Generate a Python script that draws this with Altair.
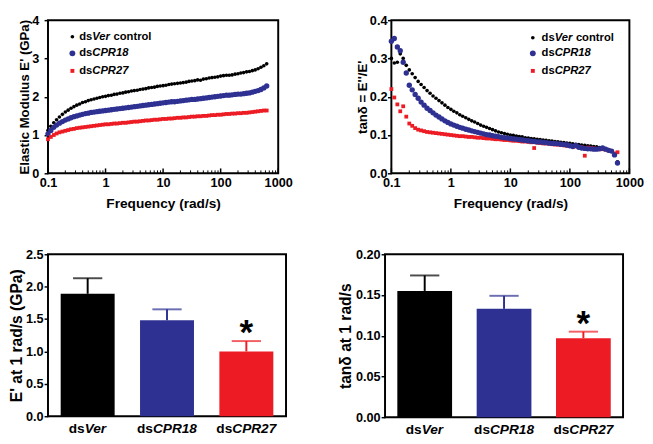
import altair as alt
import pandas as pd

FONT = "Liberation Sans"

# ---------------- data ----------------
freq = [0.1, 0.112, 0.126, 0.141, 0.158, 0.178, 0.2, 0.224, 0.251, 0.282,
        0.316, 0.355, 0.398, 0.447, 0.501, 0.562, 0.631, 0.708, 0.794, 0.891,
        1, 1.12, 1.26, 1.41, 1.58, 1.78, 2, 2.24, 2.51, 2.82,
        3.16, 3.55, 3.98, 4.47, 5.01, 5.62, 6.31, 7.08, 7.94, 8.91,
        10, 11.2, 12.6, 14.1, 15.8, 17.8, 20, 22.4, 25.1, 28.2,
        31.6, 35.5, 39.8, 44.7, 50.1, 56.2, 63.1, 70.8, 79.4, 89.1,
        100, 112, 126, 141, 158, 178, 200, 224, 251, 282,
        316, 355, 398, 447, 501, 562, 631]

eprime_ver = [1.12, 1.23, 1.32, 1.40, 1.47, 1.54, 1.60, 1.65, 1.70, 1.74,
              1.78, 1.81, 1.85, 1.87, 1.90, 1.92, 1.94, 1.96, 1.98, 2.00,
              2.01, 2.03, 2.04, 2.06, 2.07, 2.09, 2.10, 2.12, 2.13, 2.15,
              2.16, 2.17, 2.19, 2.20, 2.21, 2.23, 2.24, 2.25, 2.27, 2.28,
              2.29, 2.30, 2.32, 2.33, 2.34, 2.35, 2.36, 2.37, 2.38, 2.40,
              2.41, 2.42, 2.44, 2.43, 2.46, 2.47, 2.49, 2.50, 2.51, 2.52,
              2.54, 2.55, 2.56, 2.56, 2.57, 2.59, 2.60, 2.62, 2.63, 2.65,
              2.66, 2.68, 2.70, 2.73, 2.77, 2.81, 2.86]
eprime_cpr18 = [1.03, 1.12, 1.20, 1.26, 1.31, 1.35, 1.39, 1.42, 1.45, 1.48,
                1.50, 1.52, 1.54, 1.56, 1.57, 1.59, 1.60, 1.61, 1.62, 1.63,
                1.64, 1.65, 1.66, 1.67, 1.68, 1.69, 1.70, 1.71, 1.72, 1.73,
                1.74, 1.75, 1.76, 1.77, 1.78, 1.79, 1.80, 1.81, 1.82, 1.83,
                1.84, 1.85, 1.86, 1.87, 1.87, 1.88, 1.89, 1.90, 1.91, 1.92,
                1.93, 1.93, 1.94, 1.95, 1.96, 1.97, 1.98, 1.99, 2.00, 2.01,
                2.02, 2.03, 2.04, 2.04, 2.05, 2.06, 2.07, 2.07, 2.08, 2.09,
                2.10, 2.12, 2.14, 2.16, 2.19, 2.23, 2.28]
eprime_cpr27 = [0.89, 0.95, 1.00, 1.04, 1.07, 1.09, 1.11, 1.13, 1.15, 1.16,
                1.18, 1.19, 1.20, 1.21, 1.22, 1.23, 1.24, 1.25, 1.26, 1.27,
                1.28, 1.28, 1.29, 1.30, 1.30, 1.31, 1.32, 1.32, 1.33, 1.34,
                1.35, 1.35, 1.36, 1.37, 1.38, 1.38, 1.39, 1.40, 1.40, 1.41,
                1.42, 1.42, 1.43, 1.43, 1.44, 1.45, 1.45, 1.46, 1.46, 1.47,
                1.48, 1.48, 1.49, 1.49, 1.50, 1.50, 1.51, 1.52, 1.52, 1.53,
                1.53, 1.54, 1.55, 1.55, 1.56, 1.56, 1.57, 1.57, 1.58, 1.58,
                1.59, 1.60, 1.61, 1.62, 1.63, 1.64, 1.64]

tan_ver = [0.300, 0.288, 0.290, 0.312, 0.300, 0.282, 0.270, 0.260, 0.250, 0.240,
           0.232, 0.224, 0.216, 0.209, 0.202, 0.196, 0.190, 0.184, 0.178, 0.172,
           0.167, 0.162, 0.158, 0.153, 0.149, 0.145, 0.141, 0.137, 0.134, 0.130,
           0.126, 0.123, 0.120, 0.117, 0.114, 0.111, 0.108, 0.106, 0.104, 0.102,
           0.100, 0.099, 0.097, 0.096, 0.095, 0.093, 0.092, 0.091, 0.090, 0.089,
           0.088, 0.087, 0.086, 0.085, 0.084, 0.083, 0.082, 0.081, 0.080, 0.079,
           0.078, 0.077, 0.076, 0.075, 0.074, 0.073, 0.072, 0.071, 0.070, 0.069,
           0.067, 0.066, 0.064, 0.062, 0.058, 0.050, 0.030]
tan_cpr18 = [0.345, 0.352, 0.330, 0.320, 0.290, 0.262, 0.230, 0.218, 0.206, 0.196,
             0.186, 0.178, 0.170, 0.164, 0.158, 0.152, 0.147, 0.142, 0.137, 0.133,
             0.129, 0.126, 0.123, 0.120, 0.118, 0.115, 0.113, 0.111, 0.109, 0.107,
             0.105, 0.103, 0.101, 0.100, 0.098, 0.097, 0.096, 0.094, 0.093, 0.092,
             0.091, 0.090, 0.089, 0.088, 0.087, 0.086, 0.085, 0.084, 0.083, 0.082,
             0.082, 0.081, 0.080, 0.079, 0.078, 0.078, 0.077, 0.076, 0.075, 0.074,
             0.072, 0.070, 0.073, 0.068, 0.066, 0.065, 0.064, 0.064, 0.063, 0.063,
             0.064, 0.066, 0.063, 0.060, 0.058, 0.048, 0.027]
tan_cpr27 = [0.220, 0.198, 0.180, 0.162, 0.175, 0.148, 0.130, 0.124, 0.118, 0.114,
             0.112, 0.110, 0.108, 0.107, 0.106, 0.105, 0.104, 0.103, 0.102, 0.101,
             0.100, 0.099, 0.098, 0.097, 0.097, 0.096, 0.095, 0.095, 0.094, 0.093,
             0.093, 0.092, 0.091, 0.091, 0.090, 0.089, 0.089, 0.088, 0.087, 0.087,
             0.086, 0.085, 0.085, 0.084, 0.083, 0.083, 0.082, 0.081, 0.066, 0.080,
             0.079, 0.078, 0.078, 0.077, 0.076, 0.075, 0.075, 0.074, 0.073, 0.072,
             0.072, 0.071, 0.070, 0.069, 0.068, 0.046, 0.067, 0.066, 0.065, 0.064,
             0.063, 0.063, 0.062, 0.060, 0.058, 0.052, 0.055]

groups = ["dsVer", "dsCPR18", "dsCPR27"]
group_italic = ["Ver", "CPR18", "CPR27"]
significant = [False, False, True]
e1_mean = [1.89, 1.48, 1.00]
e1_err = [0.24, 0.17, 0.16]
tan1_mean = [0.155, 0.133, 0.097]
tan1_err = [0.019, 0.016, 0.008]

major_ticks = [0.1, 1, 10, 100, 1000]
minor_ticks = [0.2, 0.3, 0.4, 0.5, 0.6, 0.7, 0.8, 0.9,
               2, 3, 4, 5, 6, 7, 8, 9,
               20, 30, 40, 50, 60, 70, 80, 90,
               200, 300, 400, 500, 600, 700, 800, 900]

# ---------------- styles ----------------
C_BLACK = "#000000"
C_BLUE = "#2E3192"
C_RED = "#ED1C24"
series_style = [  # (italic part, suffix, color, shape, size)
    ("Ver", " control", C_BLACK, "circle", 14),
    ("CPR18", "", C_BLUE, "circle", 30),
    ("CPR27", "", C_RED, "square", 15),
]
legend_sizes = [14, 36, 16]

W_BOLD = {"d": 611, "s": 556, "V": 667, "e": 556, "r": 389, "c": 556, "o": 611,
          "n": 611, "t": 333, "l": 278, "C": 722, "P": 667, "R": 722, " ": 278}


def tw(s, size):
    return sum(W_BOLD.get(ch, 556) for ch in s) / 1000.0 * size


ONE = pd.DataFrame({"k": [0]})


def curve_panel(series_vals, ydom, yvals, yfmt, ytitle, w, h, sym_x, txt_x, rows_y,
                draw_order, y_ext, y_tpad, y_lpad, left_spacer=None):
    xs = alt.Scale(type="log", domain=[0.1, 1000], nice=False)
    ys = alt.Scale(domain=ydom, nice=False, zero=False)
    xaxis = alt.Axis(values=major_ticks, format="~g", ticks=False, tickSize=0,
                     labelFlush=False, labelOverlap=False, labelFontSize=13,
                     labelPadding=4, minExtent=17, maxExtent=17,
                     title="Frequency (rad/s)", titleFontSize=14, titlePadding=7)
    yaxis = alt.Axis(values=yvals, format=yfmt, tickSize=4, labelFontSize=13,
                     labelPadding=y_lpad, minExtent=y_ext, maxExtent=y_ext,
                     title=ytitle, titleFontSize=13.5, titlePadding=y_tpad)
    layers = []
    for idx in draw_order:
        name, suf, col, shp, sz = series_style[idx]
        df = pd.DataFrame({"f": freq, "v": series_vals[idx]})
        layers.append(alt.Chart(df).mark_point(filled=True, shape=shp, size=sz, color=col,
                                               opacity=1, strokeWidth=0).encode(
            x=alt.X("f:Q", scale=xs, axis=xaxis),
            y=alt.Y("v:Q", scale=ys, axis=yaxis)))
    layers.append(alt.Chart(pd.DataFrame({"f": major_ticks})).mark_rule(
        color="black", strokeWidth=1.5).encode(
        x=alt.X("f:Q", scale=xs, axis=xaxis), y=alt.value(h), y2=alt.value(h - 5)))
    layers.append(alt.Chart(pd.DataFrame({"f": minor_ticks})).mark_rule(
        color="black", strokeWidth=1).encode(
        x=alt.X("f:Q", scale=xs, axis=xaxis), y=alt.value(h), y2=alt.value(h - 3)))
    fs = 11.5
    for i, (name, suf, col, shp, sz) in enumerate(series_style):
        ry = rows_y[i]
        layers.append(alt.Chart(ONE).mark_point(filled=True, shape=shp, size=legend_sizes[i],
                                                color=col, opacity=1, strokeWidth=0).encode(
            x=alt.value(sym_x), y=alt.value(ry)))
        layers.append(alt.Chart(ONE).mark_text(text="ds", font=FONT, fontWeight="bold",
                                               fontSize=fs, align="left", baseline="middle",
                                               color="black").encode(
            x=alt.value(txt_x), y=alt.value(ry)))
        layers.append(alt.Chart(ONE).mark_text(text=name, font=FONT, fontWeight="bold",
                                               fontStyle="italic", fontSize=fs, align="left",
                                               baseline="middle", color="black").encode(
            x=alt.value(txt_x + tw("ds", fs)), y=alt.value(ry)))
        if suf:
            layers.append(alt.Chart(ONE).mark_text(text=suf.strip(), font=FONT,
                                                   fontWeight="bold", fontSize=fs,
                                                   align="left", baseline="middle",
                                                   color="black").encode(
                x=alt.value(txt_x + tw("ds" + name + " ", fs)), y=alt.value(ry)))
    if left_spacer is not None:
        layers.append(alt.Chart(ONE).mark_text(text=".", fontSize=2, opacity=0,
                                               align="left", baseline="middle").encode(
            x=alt.value(left_spacer), y=alt.value(h / 2)))
    return alt.layer(*layers).properties(width=w, height=h)


def bar_panel(means, errs, ydom, yvals, yfmt, ytitle, w, h, pin, y_ext, y_tpad):
    df = pd.DataFrame({"cat": groups, "mean": means,
                       "top": [m + e for m, e in zip(means, errs)],
                       "sig": significant})
    xs = alt.Scale(domain=groups, paddingInner=pin, paddingOuter=pin / 2)
    cs = alt.Scale(domain=groups, range=[C_BLACK, C_BLUE, C_RED])
    ys = alt.Scale(domain=ydom, nice=False)
    yaxis = alt.Axis(values=yvals, format=yfmt, tickSize=4, labelFontSize=13,
                     labelPadding=1, minExtent=y_ext, maxExtent=y_ext,
                     title=ytitle, titleFontSize=16, titlePadding=y_tpad)
    X = alt.X("cat:N", scale=xs, axis=None, sort=groups)
    color = alt.Color("cat:N", scale=cs, legend=None)
    base = alt.Chart(df)
    layers = [
        base.mark_rule(strokeWidth=2).encode(
            x=X, y=alt.Y("mean:Q", scale=ys, axis=yaxis), y2="top:Q", color=color),
        base.mark_tick(size=30, thickness=2).encode(
            x=X, y=alt.Y("top:Q", scale=ys, axis=yaxis), color=color),
        base.mark_bar().encode(
            x=X, y=alt.Y("mean:Q", scale=ys, axis=yaxis), color=color),
        base.transform_filter(alt.datum.sig).mark_text(
            text="*", font=FONT, fontWeight="bold", fontSize=36, baseline="alphabetic",
            dy=3, color="black").encode(x=X, y=alt.Y("top:Q", scale=ys, axis=yaxis)),
    ]
    fs = 14
    for g, it in zip(groups, group_italic):
        total = tw("ds" + it, fs)
        sub = base.transform_filter(alt.datum.cat == g)
        layers.append(sub.mark_text(text="ds", font=FONT, fontWeight="bold", fontSize=fs,
                                    align="left", baseline="middle", dx=-total / 2,
                                    color="black").encode(x=X, y=alt.value(h + 13)))
        layers.append(sub.mark_text(text=it, font=FONT, fontWeight="bold", fontStyle="italic",
                                    fontSize=fs, align="left", baseline="middle",
                                    dx=-total / 2 + tw("ds", fs),
                                    color="black").encode(x=X, y=alt.value(h + 13)))
    return alt.layer(*layers).properties(width=w, height=h)


p1 = curve_panel([eprime_ver, eprime_cpr18, eprime_cpr27], [0, 4], [0, 1, 2, 3, 4], "d",
                 "Elastic Modulus E' (GPa)", 236, 157, 25, 32, [17, 34, 52], [0, 1, 2],
                 y_ext=17, y_tpad=0, y_lpad=5.5, left_spacer=-35)
p2 = curve_panel([tan_ver, tan_cpr18, tan_cpr27], [0, 0.4], [0, 0.1, 0.2, 0.3, 0.4], ".1f",
                 "tan\u03b4 = E''/E'", 244, 157, 145, 154, [18, 34, 52], [0, 2, 1],
                 y_ext=22.5, y_tpad=0, y_lpad=0.5)
p3 = bar_panel(e1_mean, e1_err, [0, 2.5], [0, 0.5, 1.0, 1.5, 2.0, 2.5], ".1f",
               "E' at 1 rad/s (GPa)", 244, 166, 0.32, y_ext=23, y_tpad=1)
p4 = bar_panel(tan1_mean, tan1_err, [0, 0.2], [0, 0.05, 0.10, 0.15, 0.20], ".2f",
               "tan\u03b4 at 1 rad/s", 244, 167, 0.31, y_ext=30.5, y_tpad=2)

row1 = alt.hconcat(p1, p2, spacing=62)
row2 = alt.hconcat(p3, p4, spacing=50.5)
chart = alt.vconcat(row1, row2, spacing=37).properties(
    padding=0
).configure_axis(
    labelFont=FONT, titleFont=FONT, labelFontWeight="bold", titleFontWeight="bold",
    labelColor="black", titleColor="black", grid=False, domain=False,
    tickColor="black", tickWidth=1.5
).configure_view(stroke="black", strokeWidth=2)

chart.save("out.html", embed_options={"renderer": "svg", "actions": False})
